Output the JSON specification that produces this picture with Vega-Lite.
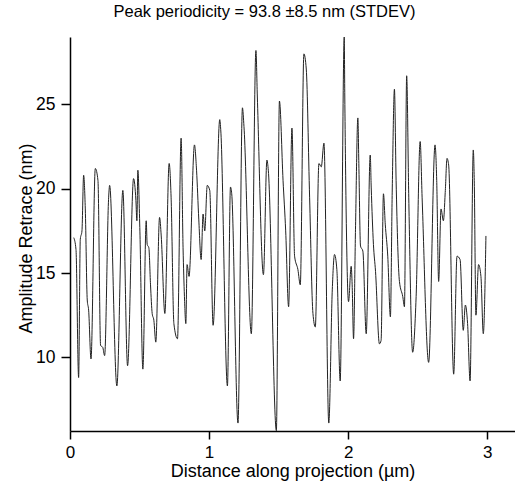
{
  "$schema": "https://vega.github.io/schema/vega-lite/v6.json",
  "autosize": {"type": "none"},
  "padding": {"left": 70, "top": 37, "right": 0, "bottom": 57},
  "width": 445,
  "height": 394,
  "background": "white",
  "config": {
    "font": "Liberation Sans",
    "view": {"stroke": null},
    "axis": {"grid": false, "domainColor": "black", "tickColor": "black", "labelColor": "black", "titleColor": "black", "domainWidth": 1.5, "tickWidth": 1.5, "titleFontWeight": "normal", "labelFont": "Liberation Sans", "titleFont": "Liberation Sans", "labelFlush": false}
  },
  "title": {
    "text": "Peak periodicity = 93.8 ±8.5 nm (STDEV)",
    "fontSize": 16.5,
    "fontWeight": "normal",
    "font": "Liberation Sans",
    "color": "black",
    "anchor": "middle",
    "frame": "group",
    "baseline": "alphabetic",
    "offset": 1.5,
    "dx": -28
  },
  "data": {
    "values": [
      {"x": 0.027, "y": 17.1}, {"x": 0.043, "y": 16.4}, {"x": 0.062, "y": 8.8}, {"x": 0.074, "y": 17.0},
      {"x": 0.086, "y": 17.5}, {"x": 0.098, "y": 20.8}, {"x": 0.110, "y": 18.8}, {"x": 0.124, "y": 13.4},
      {"x": 0.134, "y": 12.8}, {"x": 0.151, "y": 9.9}, {"x": 0.182, "y": 21.2}, {"x": 0.201, "y": 20.5},
      {"x": 0.220, "y": 10.7}, {"x": 0.235, "y": 10.6}, {"x": 0.249, "y": 10.1}, {"x": 0.278, "y": 19.5},
      {"x": 0.285, "y": 20.2}, {"x": 0.337, "y": 8.3}, {"x": 0.380, "y": 19.9}, {"x": 0.414, "y": 9.5},
      {"x": 0.457, "y": 20.6}, {"x": 0.474, "y": 19.3}, {"x": 0.481, "y": 18.1}, {"x": 0.488, "y": 21.1},
      {"x": 0.502, "y": 17.7}, {"x": 0.524, "y": 9.3}, {"x": 0.548, "y": 18.1}, {"x": 0.555, "y": 16.7},
      {"x": 0.567, "y": 16.5}, {"x": 0.579, "y": 14.3}, {"x": 0.591, "y": 12.6}, {"x": 0.603, "y": 12.2},
      {"x": 0.617, "y": 10.9}, {"x": 0.644, "y": 18.3}, {"x": 0.656, "y": 17.2}, {"x": 0.682, "y": 12.6},
      {"x": 0.713, "y": 21.5}, {"x": 0.727, "y": 19.5}, {"x": 0.747, "y": 12.0}, {"x": 0.773, "y": 11.1},
      {"x": 0.799, "y": 23.0}, {"x": 0.813, "y": 16.5}, {"x": 0.823, "y": 13.6}, {"x": 0.833, "y": 12.0},
      {"x": 0.842, "y": 15.5}, {"x": 0.856, "y": 14.8}, {"x": 0.895, "y": 22.6}, {"x": 0.910, "y": 21.1},
      {"x": 0.926, "y": 18.2}, {"x": 0.943, "y": 15.8}, {"x": 0.957, "y": 18.5}, {"x": 0.969, "y": 17.5},
      {"x": 0.987, "y": 20.2}, {"x": 1.005, "y": 19.9}, {"x": 1.029, "y": 11.9}, {"x": 1.077, "y": 24.1},
      {"x": 1.084, "y": 23.5}, {"x": 1.132, "y": 8.3}, {"x": 1.154, "y": 20.1}, {"x": 1.163, "y": 19.7},
      {"x": 1.208, "y": 6.1}, {"x": 1.240, "y": 24.8}, {"x": 1.251, "y": 23.7}, {"x": 1.304, "y": 11.4},
      {"x": 1.337, "y": 28.2}, {"x": 1.347, "y": 25.5}, {"x": 1.391, "y": 14.9}, {"x": 1.416, "y": 21.7},
      {"x": 1.426, "y": 21.1}, {"x": 1.484, "y": 5.65}, {"x": 1.506, "y": 25.2}, {"x": 1.532, "y": 20.5},
      {"x": 1.551, "y": 17.5}, {"x": 1.572, "y": 13.0}, {"x": 1.596, "y": 23.6}, {"x": 1.615, "y": 16.0},
      {"x": 1.639, "y": 15.2}, {"x": 1.656, "y": 14.3}, {"x": 1.682, "y": 28.0}, {"x": 1.699, "y": 27.1},
      {"x": 1.723, "y": 19.5}, {"x": 1.747, "y": 12.6}, {"x": 1.764, "y": 11.8}, {"x": 1.790, "y": 21.5},
      {"x": 1.807, "y": 21.3}, {"x": 1.826, "y": 22.7}, {"x": 1.861, "y": 6.1}, {"x": 1.886, "y": 14.0},
      {"x": 1.902, "y": 16.1}, {"x": 1.919, "y": 15.2}, {"x": 1.943, "y": 8.6}, {"x": 1.972, "y": 29.0},
      {"x": 1.976, "y": 25.5}, {"x": 1.986, "y": 18.5}, {"x": 2.003, "y": 13.3}, {"x": 2.022, "y": 15.4},
      {"x": 2.029, "y": 14.3}, {"x": 2.039, "y": 11.1}, {"x": 2.053, "y": 17.6}, {"x": 2.070, "y": 24.2},
      {"x": 2.077, "y": 21.5}, {"x": 2.089, "y": 16.6}, {"x": 2.106, "y": 16.3}, {"x": 2.130, "y": 11.4},
      {"x": 2.159, "y": 22.0}, {"x": 2.166, "y": 20.1}, {"x": 2.182, "y": 16.7}, {"x": 2.197, "y": 15.1},
      {"x": 2.225, "y": 10.8}, {"x": 2.237, "y": 11.0}, {"x": 2.254, "y": 19.7}, {"x": 2.267, "y": 17.9},
      {"x": 2.285, "y": 16.0}, {"x": 2.304, "y": 12.4}, {"x": 2.317, "y": 19.8}, {"x": 2.333, "y": 25.9},
      {"x": 2.345, "y": 20.5}, {"x": 2.369, "y": 14.5}, {"x": 2.393, "y": 13.6}, {"x": 2.405, "y": 13.0},
      {"x": 2.421, "y": 26.7}, {"x": 2.436, "y": 19.5}, {"x": 2.464, "y": 10.3}, {"x": 2.489, "y": 13.6},
      {"x": 2.518, "y": 22.8}, {"x": 2.532, "y": 19.5}, {"x": 2.579, "y": 9.7}, {"x": 2.625, "y": 22.6},
      {"x": 2.637, "y": 20.5}, {"x": 2.651, "y": 14.5}, {"x": 2.668, "y": 18.8}, {"x": 2.685, "y": 18.1},
      {"x": 2.699, "y": 19.9}, {"x": 2.711, "y": 21.8}, {"x": 2.723, "y": 21.4}, {"x": 2.759, "y": 9.0},
      {"x": 2.783, "y": 16.0}, {"x": 2.805, "y": 15.8}, {"x": 2.828, "y": 11.6}, {"x": 2.843, "y": 13.1},
      {"x": 2.859, "y": 12.0}, {"x": 2.877, "y": 8.6}, {"x": 2.900, "y": 22.3}, {"x": 2.907, "y": 20.5},
      {"x": 2.919, "y": 12.5}, {"x": 2.938, "y": 15.5}, {"x": 2.955, "y": 14.8}, {"x": 2.972, "y": 11.4},
      {"x": 2.991, "y": 17.2}
    ]
  },
  "mark": {"type": "line", "color": "#222222", "strokeWidth": 1, "clip": false, "interpolate": "monotone"},
  "encoding": {
    "x": {
      "field": "x",
      "type": "quantitative",
      "scale": {"domain": [0, 3.2], "nice": false, "zero": false},
      "axis": {
        "title": "Distance along projection (µm)",
        "values": [0, 1, 2, 3],
        "format": "d",
        "labelFontSize": 17,
        "labelPadding": 5,
        "tickSize": 8,
        "titleFontSize": 18,
        "titleY": 45,
        "titleBaseline": "alphabetic"
      }
    },
    "y": {
      "field": "y",
      "type": "quantitative",
      "scale": {"domain": [5.63, 29.0], "nice": false, "zero": false},
      "axis": {
        "title": "Amplitude Retrace (nm)",
        "values": [10, 15, 20, 25],
        "format": "d",
        "labelFontSize": 17.5,
        "labelPadding": 6,
        "tickSize": 9,
        "titleFontSize": 18,
        "titleAngle": -90,
        "titleX": -39,
        "titleY": 201,
        "titleAlign": "center",
        "titleBaseline": "alphabetic"
      }
    }
  }
}
